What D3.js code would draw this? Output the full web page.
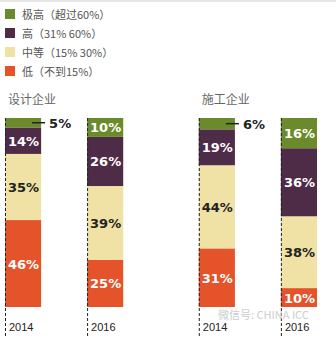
<!DOCTYPE html>
<html><head><meta charset="utf-8">
<script src="https://cdn.jsdelivr.net/npm/d3@7"></script>
<style>body{margin:0;background:#fff}svg{display:block}</style>
</head><body><div id="chart"></div>
<script>
const groups = ["设计企业", "施工企业"];
const years = ["2014", "2016"];
const levels = ["低（不到15%）", "中等（15% 30%）", "高（31% 60%）", "极高（超过60%）"];
const legendOrder = ["极高（超过60%）", "高（31% 60%）", "中等（15% 30%）", "低（不到15%）"];
const colors = ["#e4532a", "#efe2a4", "#4e2b46", "#6a8a2b"];
const labelColors = ["#fff", "#222", "#fff", "#fff"];
// values per group/year, bottom to top: 低, 中等, 高, 极高
const design2014 = [46, 35, 14, 5];
const design2016 = [25, 39, 26, 10];
const build2014 = [31, 44, 19, 6];
const build2016 = [10, 38, 36, 16];
const values = {"设计企业": {"2014": design2014, "2016": design2016}, "施工企业": {"2014": build2014, "2016": build2016}};

const W = 336, H = 338;
const svg = d3.select("#chart").append("svg").attr("width", W).attr("height", H);
svg.append("rect").attr("width", W).attr("height", 2).attr("fill", "#e6e6e6");

const color = d3.scaleOrdinal().domain(levels).range(colors);
const xg = d3.scaleBand().domain(groups).range([5, 317]).paddingInner(0.39).paddingOuter(0);
const xy = d3.scaleBand().domain(years).range([0, xg.bandwidth()]).paddingInner(0.56).paddingOuter(0);
const y = d3.scaleLinear().domain([0, 100]).range([307, 118]);

// legend
const lg = svg.append("g");
legendOrder.forEach((l, i) => {
  const g = lg.append("g").attr("transform", `translate(5,${9 + i * 19})`);
  g.append("rect").attr("width", 10).attr("height", 10).attr("fill", color(l));
  g.append("text").attr("x", 17).attr("y", 9.5).text(l)
    .attr("font-family", "Noto Sans CJK SC").attr("font-size", 11).attr("fill", "#555");
});

groups.forEach(gName => {
  const gx = xg(gName);
  svg.append("text").attr("x", gx + 3).attr("y", 104).text(gName)
    .attr("font-family", "Noto Sans CJK SC").attr("font-size", 12).attr("fill", "#666");
  years.forEach(yr => {
    const x0 = gx + xy(yr), bw = xy.bandwidth();
    const vals = values[gName][yr];
    const stack = d3.stack().keys(d3.range(vals.length))([vals]);
    stack.forEach((s, i) => {
      const [a, b] = s[0];
      svg.append("rect").attr("x", x0).attr("width", bw)
        .attr("y", y(b)).attr("height", y(a) - y(b)).attr("fill", colors[i]);
      const v = vals[i];
      const mid = (y(a) + y(b)) / 2;
      if (v < 8) {
        svg.append("line").attr("x1", x0 + bw - 9).attr("x2", x0 + bw + 4)
          .attr("y1", mid).attr("y2", mid).attr("stroke", "#222").attr("stroke-width", 1.5);
        svg.append("text").attr("x", x0 + bw + 8).attr("y", mid + 5).text(v + "%")
          .attr("font-family", "DejaVu Sans").attr("font-weight", "bold").attr("font-size", 13).attr("fill", "#222");
      } else {
        svg.append("text").attr("x", x0 + 3).attr("y", mid + 5).text(v + "%")
          .attr("font-family", "DejaVu Sans").attr("font-weight", "bold").attr("font-size", 13)
          .attr("fill", labelColors[i]);
      }
    });
    svg.append("line").attr("x1", x0 + 0.5).attr("x2", x0 + 0.5).attr("y1", y(100)).attr("y2", H)
      .attr("stroke", "#222").attr("stroke-width", 1).attr("stroke-dasharray", "3,2");
    svg.append("text").attr("x", x0 + 4).attr("y", 331).text(yr)
      .attr("font-family", "Liberation Sans Narrow, Liberation Sans").attr("font-size", 11).attr("fill", "#222");
  });
});

svg.append("text").attr("x", 218).attr("y", 319).text("微信号: CHINA ICC")
  .attr("font-family", "Noto Sans CJK SC").attr("font-size", 11).attr("fill", "#c8c8c8").attr("opacity", 0.9);
</script></body></html>
